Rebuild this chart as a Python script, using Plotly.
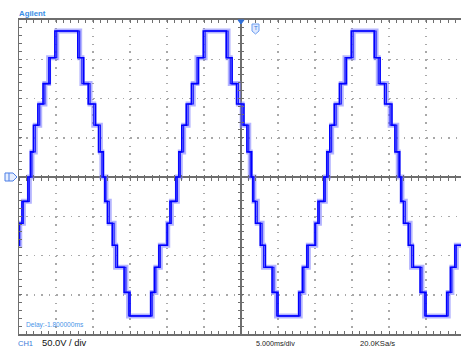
import plotly.graph_objects as go

# ---------------- data read from the oscilloscope screen ----------------
# 5 ms/div horizontally, 50 V/div vertically, screen centre = (0 ms, 0 V)
x_range_ms = [-30.0, 29.73]
y_range_v = [-200.0, 200.0]

# start (zero crossing, ms) and polarity of each half cycle on screen
half_start_ms = [-38.5, -28.55, -18.5, -8.5, 1.5, 11.5, 21.5, 31.5]
half_sign = [-1, 1, -1, 1, -1, 1, -1, 1]

# staircase voltage levels (V), from the first step to the peak
pos_levels_v = [32, 66, 93, 119, 152, 186]
neg_levels_v = [-31, -59, -87, -115, -147, -177]

# switching instants (ms after the zero crossing), capture A
pos_on_a = [0.10, 0.50, 1.10, 1.80, 2.75, 3.40]
pos_off_a = [6.50, 7.30, 7.90, 8.90, 9.30, 9.95]
neg_on_a = [0.10, 0.45, 1.10, 1.80, 2.70, 3.50]
neg_off_a = [6.30, 6.80, 7.40, 8.50, 8.90, 9.70]

# switching instants (ms after the zero crossing), persistence capture B
pos_on_b = [0.30, 0.75, 1.35, 2.05, 2.55, 3.65]
pos_off_b = [6.75, 7.05, 8.15, 8.65, 9.55, 9.75]
neg_on_b = [0.25, 0.70, 1.35, 1.55, 2.95, 3.30]
neg_off_b = [6.50, 7.00, 7.60, 8.60, 9.10, 9.90]

# screen annotations
brand_text = "Agilent"
delay_text = "Delay:-1.800000ms"
channel_text = "CH1"
vdiv_text = "50.0V / div"
tdiv_text = "5.000ms/div"
rate_text = "20.0KSa/s"


def staircase(pos_on, pos_off, neg_on, neg_off):
    xs, ys = [], []
    for t0, s in zip(half_start_ms, half_sign):
        if s > 0:
            on, off, lv = pos_on, pos_off, pos_levels_v
        else:
            on, off, lv = neg_on, neg_off, neg_levels_v
        n = len(lv)
        for k in range(n):
            xs.append(t0 + on[k]); ys.append(lv[k])
        for k in range(n - 1):
            xs.append(t0 + off[k]); ys.append(lv[n - 2 - k])
        xs.append(t0 + off[n - 1]); ys.append(0)
    return xs, ys


xa, ya = staircase(pos_on_a, pos_off_a, neg_on_a, neg_off_a)
xb, yb = staircase(pos_on_b, pos_off_b, neg_on_b, neg_off_b)

W, H = 461, 348
L, R, T, B = 19, 0, 20, 14
PW, PH = W - L - R, H - T - B


def px(xp):
    return (xp - L) / PW


def py(yp):
    return (H - B - yp) / PH


fig = go.Figure()
fig.add_trace(go.Scatter(x=xb, y=yb, mode="lines", line=dict(shape="hv", color="rgba(120,120,255,0.55)", width=5),
                         hoverinfo="skip", showlegend=False))
fig.add_trace(go.Scatter(x=xb, y=yb, mode="lines", line=dict(shape="hv", color="#1a1aff", width=1.2),
                         hoverinfo="skip", showlegend=False))
fig.add_trace(go.Scatter(x=xa, y=ya, mode="lines", line=dict(shape="hv", color="#0000ff", width=1.6),
                         hoverinfo="skip", showlegend=False))
# helper (empty) traces so the centre-line tick axes are drawn
for xr, yr in [("x2", "y"), ("x3", "y"), ("x", "y2"), ("x", "y3")]:
    fig.add_trace(go.Scatter(x=[None], y=[None], xaxis=xr, yaxis=yr, showlegend=False, hoverinfo="skip"))

grid_col = "#a8a8a8"
axis_col = "#6e6e6e"
x_minor_px = PW / 59.73 * 1.0
y_minor_px = PH / 40.0

fig.update_layout(
    width=W, height=H,
    margin=dict(l=L, r=R, t=T, b=B, pad=0),
    paper_bgcolor="white", plot_bgcolor="white",
    showlegend=False, hovermode=False,
    xaxis=dict(range=x_range_ms, domain=[0, 1], showticklabels=False,
               showline=True, linecolor=axis_col, linewidth=2, mirror="ticks",
               ticks="inside", tickcolor=axis_col, ticklen=3, tickwidth=1, dtick=5, tick0=0,
               minor=dict(dtick=1, tick0=0, ticks="inside", ticklen=3, tickcolor=axis_col, showgrid=False),
               showgrid=True, gridcolor=grid_col, gridwidth=1.5,
               griddash="1.5px,%.2fpx" % (y_minor_px - 1.5),
               zeroline=True, zerolinecolor=axis_col, zerolinewidth=1.5, fixedrange=True),
    yaxis=dict(range=y_range_v, domain=[0, 1], showticklabels=False,
               showline=True, linecolor=axis_col, linewidth=1.5, mirror=False,
               ticks="inside", tickcolor=axis_col, ticklen=3, tickwidth=1, dtick=50, tick0=0,
               minor=dict(dtick=10, tick0=0, ticks="inside", ticklen=3, tickcolor=axis_col, showgrid=False),
               showgrid=True, gridcolor=grid_col, gridwidth=1.5,
               griddash="1.5px,%.2fpx" % (x_minor_px - 1.5),
               zeroline=True, zerolinecolor=axis_col, zerolinewidth=1.5, fixedrange=True),
    xaxis2=dict(range=x_range_ms, overlaying="x", anchor="free", position=0.5, side="bottom",
                showticklabels=False, showline=False, showgrid=False, zeroline=False,
                ticks="outside", ticklen=2.5, tickcolor=axis_col, dtick=1, tick0=0, fixedrange=True),
    xaxis3=dict(range=x_range_ms, overlaying="x", anchor="free", position=0.5, side="bottom",
                showticklabels=False, showline=False, showgrid=False, zeroline=False,
                ticks="inside", ticklen=2.5, tickcolor=axis_col, dtick=1, tick0=0, fixedrange=True),
    yaxis2=dict(range=y_range_v, overlaying="y", anchor="free", position=30.0 / 59.73, side="left",
                showticklabels=False, showline=False, showgrid=False, zeroline=False,
                ticks="outside", ticklen=2.5, tickcolor=axis_col, dtick=10, tick0=0, fixedrange=True),
    yaxis3=dict(range=y_range_v, overlaying="y", anchor="free", position=30.0 / 59.73, side="left",
                showticklabels=False, showline=False, showgrid=False, zeroline=False,
                ticks="inside", ticklen=2.5, tickcolor=axis_col, dtick=10, tick0=0, fixedrange=True),
)

font_main = "Liberation Sans, Arial, sans-serif"
ann = [
    (brand_text, 18, 13.5, 7.8, "#3a8ee6", True),
    (delay_text, 25, 325, 6.6, "#4a94e8", False),
    (channel_text, 17, 343.5, 7.5, "#3a7ad8", False),
    (vdiv_text, 41, 342.5, 9.4, "#111111", False),
    (tdiv_text, 255, 343, 7.2, "#222222", False),
    (rate_text, 359, 343, 7.6, "#222222", False),
]
for txt, xp, yp, fs, col, bold in ann:
    fig.add_annotation(text=("<b>%s</b>" % txt) if bold else txt, xref="paper", yref="paper",
                       x=px(xp), y=py(yp), xanchor="left", yanchor="middle", showarrow=False,
                       font=dict(family=font_main, size=fs, color=col), borderpad=0)


def path(points):
    return "M " + " L ".join("%.5f,%.5f" % (px(a), py(b)) for a, b in points) + " Z"


# ground marker on the left
fig.add_shape(type="path", xref="paper", yref="paper",
              path=path([(5, 173), (13, 173), (17, 177), (13, 181), (5, 181)]),
              line=dict(color="#4c7fe6", width=1), fillcolor="#e6eeff", layer="above")
fig.add_shape(type="line", xref="paper", yref="paper", x0=px(9), x1=px(9), y0=py(173), y1=py(181),
              line=dict(color="#4c7fe6", width=1))
# trigger position marker (top)
fig.add_shape(type="path", xref="paper", yref="paper",
              path=path([(238, 20), (244, 20), (241, 24)]),
              line=dict(color="#2f6fd8", width=1), fillcolor="#2f6fd8", layer="above")
# trigger level tag
fig.add_shape(type="path", xref="paper", yref="paper",
              path=path([(252, 24), (259, 24), (259, 31), (255.5, 34), (252, 31)]),
              line=dict(color="#6d9ef0", width=1), fillcolor="#dfe9ff", layer="above")
fig.add_annotation(text="T", xref="paper", yref="paper", x=px(255.5), y=py(28), showarrow=False,
                   font=dict(family=font_main, size=6, color="#3a7ad8"), xanchor="center", yanchor="middle")

fig.write_html("out.html", config={"displayModeBar": False, "staticPlot": True},
               post_script="document.body.style.margin='0';document.body.style.overflow='hidden';")
